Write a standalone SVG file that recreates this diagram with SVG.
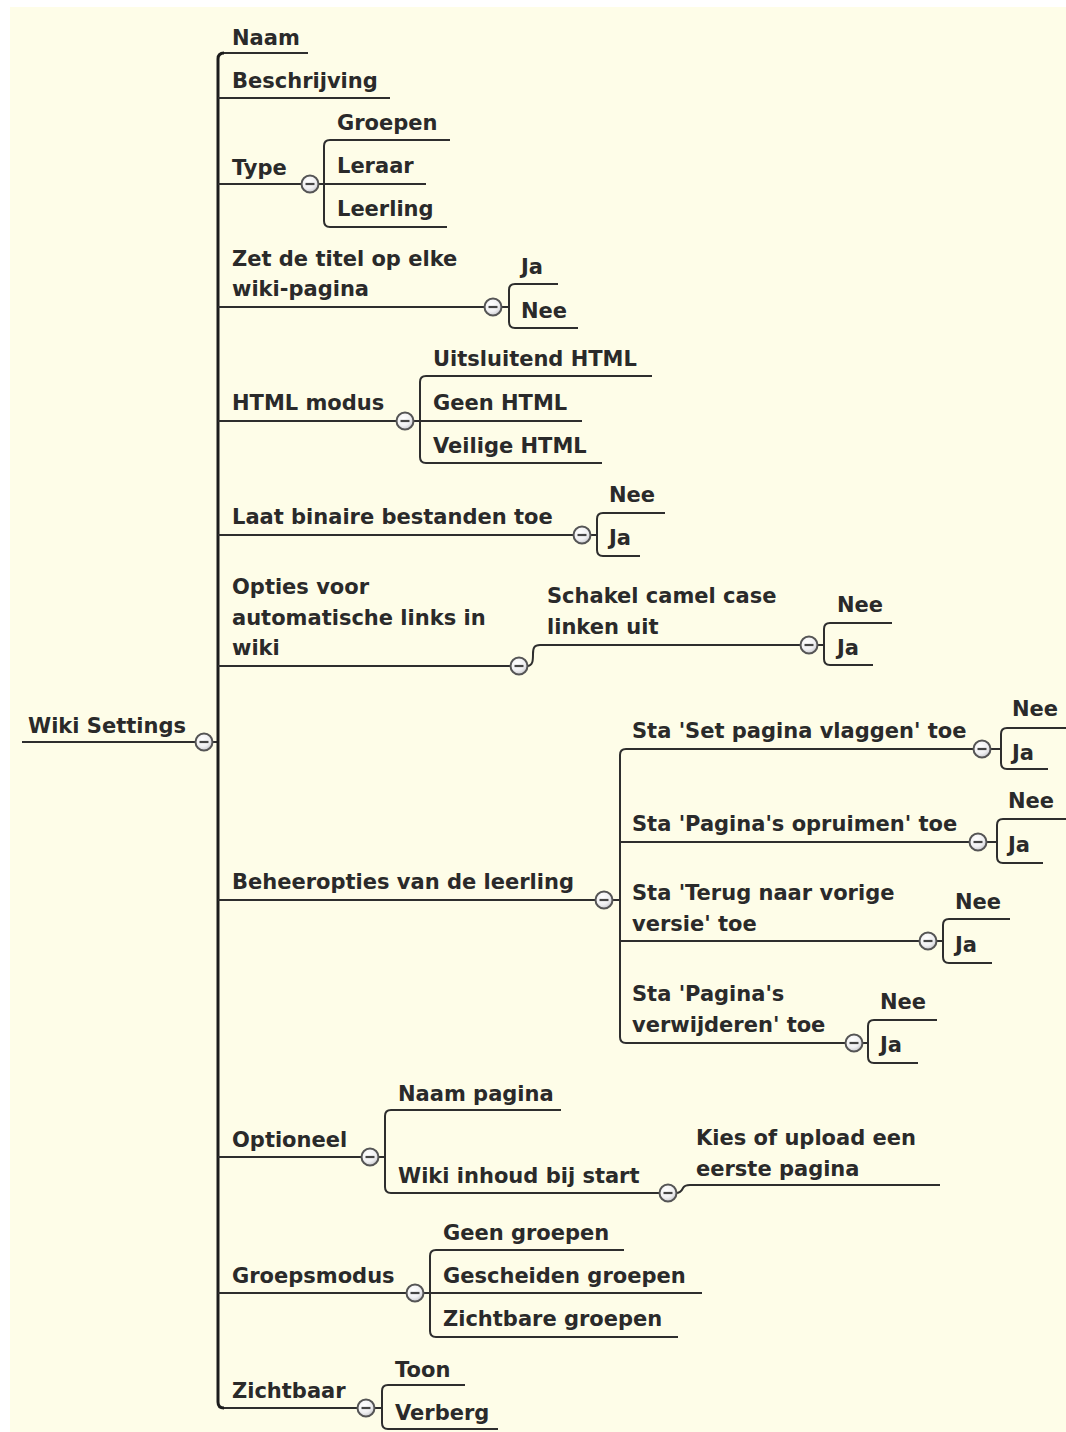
<svg xmlns="http://www.w3.org/2000/svg" width="1066" height="1432" viewBox="0 0 1066 1432">
  <defs>
    <radialGradient id="knobFill" cx="0.4" cy="0.35" r="0.7">
      <stop offset="0" stop-color="#ffffff"/>
      <stop offset="0.6" stop-color="#f0f0f2"/>
      <stop offset="1" stop-color="#c4c4ca"/>
    </radialGradient>
    <g id="knob">
      <circle r="8.5" fill="url(#knobFill)" stroke="#555" stroke-width="2"/>
      <line x1="-4.5" y1="0" x2="4.5" y2="0" stroke="#444" stroke-width="2.2"/>
    </g>
  </defs>
  <style>
    text { font-family: "DejaVu Sans", Verdana, sans-serif; font-size: 21px; font-weight: bold; fill: #2a2a2a; }
    .ul { stroke: #2e2e2e; stroke-width: 2; fill: none; }
    .link { stroke: #2e2e2e; stroke-width: 2; fill: none; }
    .trunk { stroke: #1c1c1c; stroke-width: 3; fill: none; }
  </style>

  <!-- paper -->
  <rect x="0" y="0" width="1066" height="1432" fill="#ffffff"/>
  <rect x="10" y="7" width="1056" height="1425" fill="#fefde8"/>

  <!-- branch lines -->
  <g id="connectors">
    <!-- root to main trunk -->
    <path class="link" d="M212,742 H218"/>
    <path class="trunk" d="M224,53 Q218,53 218,59 V1402 Q218,1408 224,1408"/>
    <!-- Type -->
    <path class="link" d="M318,184 H324 M330,140 Q324,140 324,146 V221 Q324,227 330,227"/>
    <!-- Zet de titel -->
    <path class="link" d="M501,307 H509 M515,284 Q509,284 509,290 V322 Q509,328 515,328"/>
    <!-- HTML modus -->
    <path class="link" d="M413,421 H420 M426,376 Q420,376 420,382 V457 Q420,463 426,463"/>
    <!-- Laat binaire bestanden -->
    <path class="link" d="M590,535 H597 M603,513 Q597,513 597,519 V550 Q597,556 603,556"/>
    <!-- Opties -> Schakel camel case -->
    <path class="link" d="M527,666 C533,666 533,660 533,654 C533,648 534,645 540,645"/>
    <path class="link" d="M817,645 H824 M830,623 Q824,623 824,629 V659 Q824,665 830,665"/>
    <!-- Beheeropties -->
    <path class="link" d="M612,900 H620 M626,749 Q620,749 620,755 V1037 Q620,1043 626,1043"/>
    <path class="link" d="M990,749 H1001 M1007,728 Q1001,728 1001,734 V763 Q1001,769 1007,769"/>
    <path class="link" d="M986,842 H997 M1003,819 Q997,819 997,825 V857 Q997,863 1003,863"/>
    <path class="link" d="M936,941 H943 M949,919 Q943,919 943,925 V957 Q943,963 949,963"/>
    <path class="link" d="M862,1043 H868 M874,1020 Q868,1020 868,1026 V1057 Q868,1063 874,1063"/>
    <!-- Optioneel -->
    <path class="link" d="M378,1157 H385 M391,1110 Q385,1110 385,1116 V1187 Q385,1193 391,1193"/>
    <path class="link" d="M676,1193 C681,1193 682,1190 683,1188 C684,1186 686,1185 690,1185"/>
    <!-- Groepsmodus -->
    <path class="link" d="M423,1293 H430 M436,1250 Q430,1250 430,1256 V1331 Q430,1337 436,1337"/>
    <!-- Zichtbaar -->
    <path class="link" d="M374,1408 H382 M388,1385 Q382,1385 382,1391 V1423 Q382,1429 388,1429"/>
  </g>

  <!-- root -->
  <g id="node-wiki-settings">
    <text x="28" y="733">Wiki Settings</text>
    <path class="ul" d="M22,742 H196"/>
    <use href="#knob" x="204" y="742"/>
  </g>

  <!-- first level -->
  <g id="node-naam">
    <text x="232" y="45">Naam</text>
    <path class="ul" d="M224,53 H308"/>
  </g>
  <g id="node-beschrijving">
    <text x="232" y="88">Beschrijving</text>
    <path class="ul" d="M218,98 H390"/>
  </g>
  <g id="node-type">
    <text x="232" y="175">Type</text>
    <path class="ul" d="M218,184 H302"/>
    <use href="#knob" x="310" y="184"/>
  </g>
  <g id="node-type-groepen">
    <text x="337" y="130">Groepen</text>
    <path class="ul" d="M330,140 H450"/>
  </g>
  <g id="node-type-leraar">
    <text x="337" y="173">Leraar</text>
    <path class="ul" d="M324,184 H426"/>
  </g>
  <g id="node-type-leerling">
    <text x="337" y="216">Leerling</text>
    <path class="ul" d="M330,227 H447"/>
  </g>

  <g id="node-titel">
    <text x="232" y="266">Zet de titel op elke</text>
    <text x="232" y="296">wiki-pagina</text>
    <path class="ul" d="M218,307 H485"/>
    <use href="#knob" x="493" y="307"/>
  </g>
  <g id="node-titel-ja">
    <text x="521" y="274">Ja</text>
    <path class="ul" d="M515,284 H558"/>
  </g>
  <g id="node-titel-nee">
    <text x="521" y="318">Nee</text>
    <path class="ul" d="M515,328 H578"/>
  </g>

  <g id="node-html">
    <text x="232" y="410">HTML modus</text>
    <path class="ul" d="M218,421 H397"/>
    <use href="#knob" x="405" y="421"/>
  </g>
  <g id="node-html-uitsluitend">
    <text x="433" y="366">Uitsluitend HTML</text>
    <path class="ul" d="M426,376 H652"/>
  </g>
  <g id="node-html-geen">
    <text x="433" y="410">Geen HTML</text>
    <path class="ul" d="M420,421 H582"/>
  </g>
  <g id="node-html-veilig">
    <text x="433" y="453">Veilige HTML</text>
    <path class="ul" d="M426,463 H602"/>
  </g>

  <g id="node-binair">
    <text x="232" y="524">Laat binaire bestanden toe</text>
    <path class="ul" d="M218,535 H574"/>
    <use href="#knob" x="582" y="535"/>
  </g>
  <g id="node-binair-nee">
    <text x="609" y="502">Nee</text>
    <path class="ul" d="M603,513 H665"/>
  </g>
  <g id="node-binair-ja">
    <text x="609" y="545">Ja</text>
    <path class="ul" d="M603,556 H640"/>
  </g>

  <g id="node-links">
    <text x="232" y="594">Opties voor</text>
    <text x="232" y="625">automatische links in</text>
    <text x="232" y="655">wiki</text>
    <path class="ul" d="M218,666 H511"/>
    <use href="#knob" x="519" y="666"/>
  </g>
  <g id="node-camelcase">
    <text x="547" y="603">Schakel camel case</text>
    <text x="547" y="634">linken uit</text>
    <path class="ul" d="M540,645 H801"/>
    <use href="#knob" x="809" y="645"/>
  </g>
  <g id="node-camelcase-nee">
    <text x="837" y="612">Nee</text>
    <path class="ul" d="M830,623 H892"/>
  </g>
  <g id="node-camelcase-ja">
    <text x="837" y="655">Ja</text>
    <path class="ul" d="M830,665 H873"/>
  </g>

  <g id="node-beheer">
    <text x="232" y="889">Beheeropties van de leerling</text>
    <path class="ul" d="M218,900 H596"/>
    <use href="#knob" x="604" y="900"/>
  </g>
  <g id="node-vlaggen">
    <text x="632" y="738">Sta 'Set pagina vlaggen' toe</text>
    <path class="ul" d="M626,749 H974"/>
    <use href="#knob" x="982" y="749"/>
  </g>
  <g id="node-vlaggen-nee">
    <text x="1012" y="716">Nee</text>
    <path class="ul" d="M1007,728 H1066"/>
  </g>
  <g id="node-vlaggen-ja">
    <text x="1012" y="760">Ja</text>
    <path class="ul" d="M1007,769 H1048"/>
  </g>
  <g id="node-opruimen">
    <text x="632" y="831">Sta 'Pagina's opruimen' toe</text>
    <path class="ul" d="M620,842 H970"/>
    <use href="#knob" x="978" y="842"/>
  </g>
  <g id="node-opruimen-nee">
    <text x="1008" y="808">Nee</text>
    <path class="ul" d="M1003,819 H1066"/>
  </g>
  <g id="node-opruimen-ja">
    <text x="1008" y="852">Ja</text>
    <path class="ul" d="M1003,863 H1043"/>
  </g>
  <g id="node-terug">
    <text x="632" y="900">Sta 'Terug naar vorige</text>
    <text x="632" y="931">versie' toe</text>
    <path class="ul" d="M620,941 H920"/>
    <use href="#knob" x="928" y="941"/>
  </g>
  <g id="node-terug-nee">
    <text x="955" y="909">Nee</text>
    <path class="ul" d="M949,919 H1010"/>
  </g>
  <g id="node-terug-ja">
    <text x="955" y="952">Ja</text>
    <path class="ul" d="M949,963 H992"/>
  </g>
  <g id="node-verwijderen">
    <text x="632" y="1001">Sta 'Pagina's</text>
    <text x="632" y="1032">verwijderen' toe</text>
    <path class="ul" d="M626,1043 H846"/>
    <use href="#knob" x="854" y="1043"/>
  </g>
  <g id="node-verwijderen-nee">
    <text x="880" y="1009">Nee</text>
    <path class="ul" d="M874,1020 H937"/>
  </g>
  <g id="node-verwijderen-ja">
    <text x="880" y="1052">Ja</text>
    <path class="ul" d="M874,1063 H918"/>
  </g>

  <g id="node-optioneel">
    <text x="232" y="1147">Optioneel</text>
    <path class="ul" d="M218,1157 H362"/>
    <use href="#knob" x="370" y="1157"/>
  </g>
  <g id="node-naam-pagina">
    <text x="398" y="1101">Naam pagina</text>
    <path class="ul" d="M391,1110 H561"/>
  </g>
  <g id="node-inhoud">
    <text x="398" y="1183">Wiki inhoud bij start</text>
    <path class="ul" d="M391,1193 H660"/>
    <use href="#knob" x="668" y="1193"/>
  </g>
  <g id="node-eerste-pagina">
    <text x="696" y="1145">Kies of upload een</text>
    <text x="696" y="1176">eerste pagina</text>
    <path class="ul" d="M690,1185 H940"/>
  </g>

  <g id="node-groepsmodus">
    <text x="232" y="1283">Groepsmodus</text>
    <path class="ul" d="M218,1293 H407"/>
    <use href="#knob" x="415" y="1293"/>
  </g>
  <g id="node-geen-groepen">
    <text x="443" y="1240">Geen groepen</text>
    <path class="ul" d="M436,1250 H624"/>
  </g>
  <g id="node-gescheiden">
    <text x="443" y="1283">Gescheiden groepen</text>
    <path class="ul" d="M430,1293 H702"/>
  </g>
  <g id="node-zichtbare">
    <text x="443" y="1326">Zichtbare groepen</text>
    <path class="ul" d="M436,1337 H678"/>
  </g>

  <g id="node-zichtbaar">
    <text x="232" y="1398">Zichtbaar</text>
    <path class="ul" d="M224,1408 H358"/>
    <use href="#knob" x="366" y="1408"/>
  </g>
  <g id="node-toon">
    <text x="395" y="1377">Toon</text>
    <path class="ul" d="M388,1385 H465"/>
  </g>
  <g id="node-verberg">
    <text x="395" y="1420">Verberg</text>
    <path class="ul" d="M388,1429 H498"/>
  </g>
</svg>
